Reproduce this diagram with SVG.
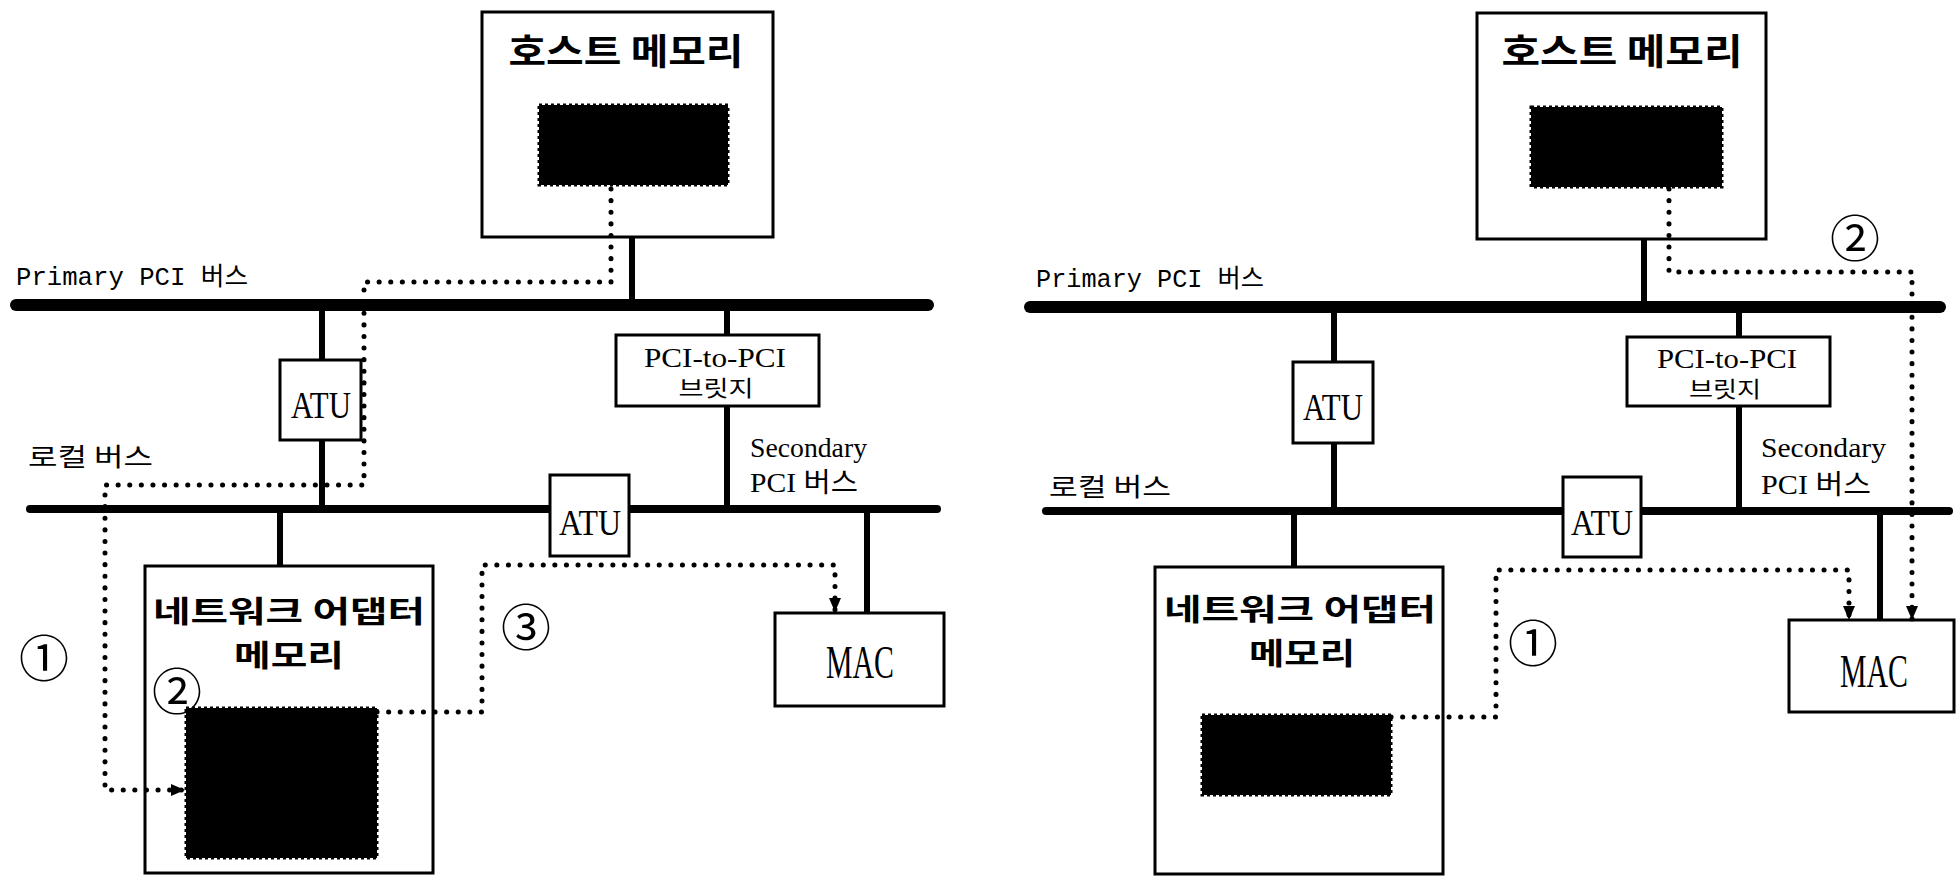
<svg xmlns="http://www.w3.org/2000/svg" width="1957" height="876" viewBox="0 0 1957 876">
<defs>
<style>
.box{fill:#fff;stroke:#000;stroke-width:3}
.blk{fill:#000;stroke:#000;stroke-width:3;stroke-dasharray:3 3}
.bus1{stroke:#000;stroke-width:12;stroke-linecap:round;fill:none}
.bus2{stroke:#000;stroke-width:8;stroke-linecap:round;fill:none}
.stem{stroke:#000;stroke-width:6;fill:none}
.dot{stroke:#000;stroke-width:5;stroke-linecap:round;stroke-dasharray:0.1 11.5;fill:none}
.t{font-family:"Liberation Serif","Noto Sans CJK KR",serif;fill:#000}
.m{font-family:"Liberation Mono","Noto Sans CJK KR",monospace;fill:#000}
.k{font-family:"Noto Sans CJK KR",sans-serif;fill:#000}
.kb{font-family:"Noto Sans CJK KR",sans-serif;font-weight:bold;fill:#000}
.c{font-family:"Noto Sans CJK KR",sans-serif;fill:#000;font-size:50px;text-anchor:middle;dominant-baseline:central}
.mid{text-anchor:middle}
</style>
<marker id="arr" markerUnits="userSpaceOnUse" markerWidth="14" markerHeight="12" refX="14" refY="6" orient="auto">
<path d="M0,0 L14,6 L0,12 z" fill="#000"/>
</marker>
</defs>
<rect width="1957" height="876" fill="#fff"/>

<g id="buses">
<line class="bus1" x1="16" y1="305" x2="928" y2="305"/>
<line class="bus2" x1="30" y1="509" x2="937" y2="509"/>
<line class="bus1" x1="1030" y1="307" x2="1940" y2="307"/>
<line class="bus2" x1="1046" y1="511" x2="1949" y2="511"/>
</g>

<g id="connectors">
<line class="stem" x1="632" y1="237" x2="632" y2="305"/>
<line class="stem" x1="322" y1="305" x2="322" y2="360"/>
<line class="stem" x1="322" y1="440" x2="322" y2="509"/>
<line class="stem" x1="727" y1="305" x2="727" y2="335"/>
<line class="stem" x1="727" y1="406" x2="727" y2="509"/>
<line class="stem" x1="280" y1="509" x2="280" y2="566"/>
<line class="stem" x1="867" y1="509" x2="867" y2="613"/>
<line class="stem" x1="1644" y1="239" x2="1644" y2="307"/>
<line class="stem" x1="1334" y1="307" x2="1334" y2="362"/>
<line class="stem" x1="1334" y1="443" x2="1334" y2="511"/>
<line class="stem" x1="1739" y1="307" x2="1739" y2="337"/>
<line class="stem" x1="1739" y1="406" x2="1739" y2="511"/>
<line class="stem" x1="1294" y1="511" x2="1294" y2="567"/>
<line class="stem" x1="1880" y1="511" x2="1880" y2="620"/>
</g>

<g id="left-host">
<rect class="box" x="482" y="12" width="291" height="225"/>
<text class="kb mid" x="626" y="65" font-size="36" textLength="235" lengthAdjust="spacingAndGlyphs">호스트 메모리</text>
<rect class="blk" x="539" y="105" width="189" height="80"/>
</g>
<g id="left-atu1">
<rect class="box" x="280" y="360" width="81" height="80"/>
<text class="t mid" x="321" y="418" font-size="38" textLength="60" lengthAdjust="spacingAndGlyphs">ATU</text>
</g>
<g id="left-bridge">
<rect class="box" x="616" y="335" width="203" height="71"/>
<text class="t mid" x="715" y="367" font-size="27" textLength="142" lengthAdjust="spacingAndGlyphs">PCI-to-PCI</text>
<text class="k mid" x="716" y="396" font-size="22" textLength="75" lengthAdjust="spacingAndGlyphs">브릿지</text>
</g>
<g id="left-atu2">
<rect class="box" x="550" y="475" width="79" height="81"/>
<text class="t mid" x="590" y="535" font-size="36" textLength="62" lengthAdjust="spacingAndGlyphs">ATU</text>
</g>
<g id="left-net">
<rect class="box" x="145" y="566" width="288" height="307"/>
<text class="kb mid" x="289" y="622" font-size="30" textLength="272" lengthAdjust="spacingAndGlyphs">네트워크 어댑터</text>
<text class="kb mid" x="289" y="665.5" font-size="30" textLength="110" lengthAdjust="spacingAndGlyphs">메모리</text>
<rect class="blk" x="186" y="708" width="191" height="150"/>
</g>
<g id="left-mac">
<rect class="box" x="775" y="613" width="169" height="93"/>
<text class="t mid" x="860" y="678" font-size="47" textLength="68" lengthAdjust="spacingAndGlyphs">MAC</text>
</g>
<g id="left-labels">
<text class="m" x="16" y="285" font-size="25" textLength="232" lengthAdjust="spacingAndGlyphs">Primary PCI 버스</text>
<text class="k" x="28" y="466" font-size="25" textLength="125" lengthAdjust="spacingAndGlyphs">로컬 버스</text>
<text class="t" x="750" y="457" font-size="27" textLength="117" lengthAdjust="spacingAndGlyphs">Secondary</text>
<text class="t" x="750" y="492" font-size="27" textLength="108" lengthAdjust="spacingAndGlyphs">PCI 버스</text>
<text class="c" x="44" y="655">①</text>
<text class="c" x="177" y="688">②</text>
<text class="c" x="526" y="624">③</text>
</g>

<g id="right-host">
<rect class="box" x="1477" y="13" width="289" height="226"/>
<text class="kb mid" x="1622" y="65" font-size="36" textLength="241" lengthAdjust="spacingAndGlyphs">호스트 메모리</text>
<rect class="blk" x="1531" y="107" width="191" height="80"/>
</g>
<g id="right-atu1">
<rect class="box" x="1293" y="362" width="80" height="81"/>
<text class="t mid" x="1333" y="420" font-size="38" textLength="60" lengthAdjust="spacingAndGlyphs">ATU</text>
</g>
<g id="right-bridge">
<rect class="box" x="1627" y="337" width="203" height="69"/>
<text class="t mid" x="1727" y="368" font-size="27" textLength="140" lengthAdjust="spacingAndGlyphs">PCI-to-PCI</text>
<text class="k mid" x="1725" y="397" font-size="22" textLength="72" lengthAdjust="spacingAndGlyphs">브릿지</text>
</g>
<g id="right-atu2">
<rect class="box" x="1563" y="477" width="78" height="80"/>
<text class="t mid" x="1602" y="535" font-size="36" textLength="62" lengthAdjust="spacingAndGlyphs">ATU</text>
</g>
<g id="right-net">
<rect class="box" x="1155" y="567" width="288" height="307"/>
<text class="kb mid" x="1300" y="620" font-size="30" textLength="272" lengthAdjust="spacingAndGlyphs">네트워크 어댑터</text>
<text class="kb mid" x="1302" y="663.5" font-size="30" textLength="106" lengthAdjust="spacingAndGlyphs">메모리</text>
<rect class="blk" x="1202" y="715" width="189" height="80"/>
</g>
<g id="right-mac">
<rect class="box" x="1789" y="620" width="165" height="92"/>
<text class="t mid" x="1874" y="687" font-size="47" textLength="68" lengthAdjust="spacingAndGlyphs">MAC</text>
</g>
<g id="right-labels">
<text class="m" x="1036" y="287" font-size="25" textLength="228" lengthAdjust="spacingAndGlyphs">Primary PCI 버스</text>
<text class="k" x="1049" y="496" font-size="25" textLength="122" lengthAdjust="spacingAndGlyphs">로컬 버스</text>
<text class="t" x="1761" y="457" font-size="27" textLength="125" lengthAdjust="spacingAndGlyphs">Secondary</text>
<text class="t" x="1761" y="494" font-size="27" textLength="110" lengthAdjust="spacingAndGlyphs">PCI 버스</text>
<text class="c" x="1855" y="235">②</text>
<text class="c" x="1533" y="640">①</text>
</g>

<g id="flows">
<path class="dot" d="M611,189 V282 H364 V485 H105 V790 H185" marker-end="url(#arr)"/>
<path class="dot" d="M377,712 H482 V565 H835 V612" marker-end="url(#arr)"/>
<path class="dot" d="M1669,189 V272 H1912 V620" marker-end="url(#arr)"/>
<path class="dot" d="M1391,717 H1496 V570 H1849 V620" marker-end="url(#arr)"/>
</g>
</svg>
